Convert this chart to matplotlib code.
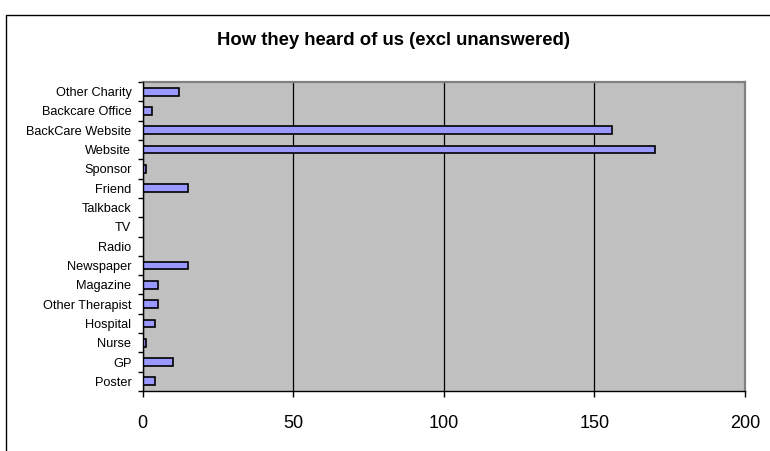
import matplotlib
matplotlib.use("Agg")
import matplotlib.pyplot as plt
from matplotlib.patches import Rectangle
import numpy as np

plt.rcParams['font.family'] = ['Liberation Sans', 'DejaVu Sans']

# Responses, listed bottom to top
sources = ["Poster", "GP", "Nurse", "Hospital", "Other Therapist", "Magazine",
           "Newspaper", "Radio", "TV", "Talkback", "Friend", "Sponsor",
           "Website", "BackCare Website", "Backcare Office", "Other Charity"]
counts = [4, 10, 1, 4, 5, 5, 15, 0, 0, 0, 15, 1, 170, 156, 3, 12]
x_ticks = [0, 50, 100, 150, 200]
title = "How they heard of us (excl unanswered)"

W, H, DPI = 770, 451, 100
fig = plt.figure(figsize=(W / DPI, H / DPI), dpi=DPI)
fig.patch.set_facecolor("white")

# Chart-area border (runs off the right and bottom edges)
fig.add_artist(Rectangle((6 / W, -0.1), 1.2, 1 - 14.5 / H + 0.1,
                         transform=fig.transFigure, fill=False,
                         edgecolor="black", linewidth=1.0))

ax = fig.add_axes([142.5 / W, 1 - 391 / H, (745 - 142.5) / W, (391 - 82) / H])
ax.set_facecolor("#C0C0C0")

y = np.arange(len(sources))
ax.barh(y, counts, height=0.4, color="#9999FF", edgecolor="black",
        linewidth=1.2, zorder=3)

ax.set_xlim(0, 200)
ax.set_ylim(-0.5, len(sources) - 0.5)

ax.set_xticks(x_ticks)
ax.set_xticklabels([str(v) for v in x_ticks], fontsize=13)
ax.tick_params(axis="x", direction="out", length=4, width=1, pad=13,
               color="black")

# Category ticks sit between bars; labels sit on bar centres
ax.set_yticks(np.arange(-0.5, len(sources), 1.0))
ax.set_yticklabels([])
ax.set_yticks(y, minor=True)
ax.set_yticklabels(sources, minor=True, fontsize=9.2)
ax.tick_params(axis="y", which="major", direction="out", length=3.5, width=1)
ax.tick_params(axis="y", which="minor", length=0, pad=8)

ax.grid(axis="x", color="black", linewidth=0.9, zorder=1)
ax.set_axisbelow(True)

for side in ("left", "bottom"):
    ax.spines[side].set_color("black")
    ax.spines[side].set_linewidth(1.0)
    ax.spines[side].set_zorder(4)
for side in ("top", "right"):
    ax.spines[side].set_color("#808080")
    ax.spines[side].set_linewidth(1.6)

fig.text(393.5 / W, 1 - 40.7 / H, title, ha="center", va="center",
         fontsize=13.3, fontweight="bold")

fig.savefig("out.png", dpi=DPI)
